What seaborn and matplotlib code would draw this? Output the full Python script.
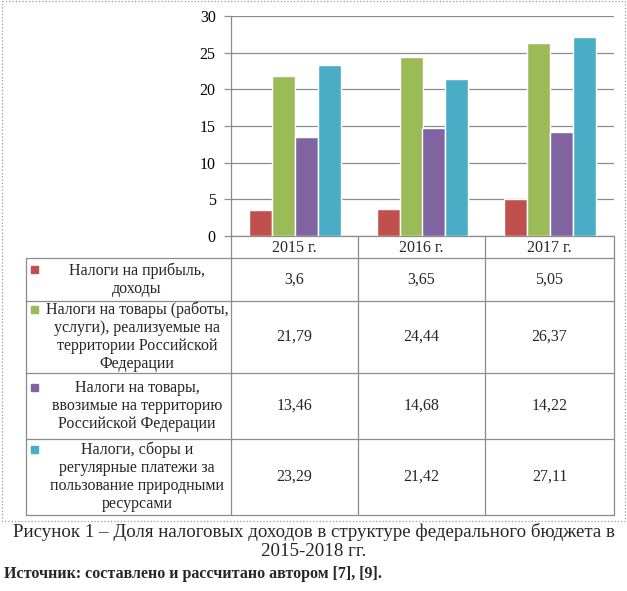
import numpy as np
import pandas as pd
import matplotlib.pyplot as plt
import seaborn as sns
from matplotlib.patches import Rectangle

# Data
years = ["2015 г.", "2016 г.", "2017 г."]
series_names = [
    "Налоги на прибыль, доходы",
    "Налоги на товары (работы, услуги), реализуемые на территории Российской Федерации",
    "Налоги на товары, ввозимые на территорию Российской Федерации",
    "Налоги, сборы и регулярные платежи за пользование природными ресурсами",
]
table_labels = [
    ["Налоги на прибыль,", "доходы"],
    ["Налоги на товары (работы,", "услуги), реализуемые на", "территории Российской", "Федерации"],
    ["Налоги на товары,", "ввозимые на территорию", "Российской Федерации"],
    ["Налоги, сборы и", "регулярные платежи за", "пользование природными", "ресурсами"],
]
profit = [3.6, 3.65, 5.05]
goods_domestic = [21.79, 24.44, 26.37]
goods_import = [13.46, 14.68, 14.22]
resources = [23.29, 21.42, 27.11]
value_labels = [
    ["3,6", "3,65", "5,05"],
    ["21,79", "24,44", "26,37"],
    ["13,46", "14,68", "14,22"],
    ["23,29", "21,42", "27,11"],
]
colors = ["#C0504D", "#9BBB59", "#8064A2", "#4BACC6"]

df = pd.DataFrame({
    "year": years * 4,
    "series": np.repeat(series_names, 3),
    "value": profit + goods_domestic + goods_import + resources,
})

sns.set_theme(style="white")
plt.rcParams['font.family'] = ['Liberation Serif', 'DejaVu Serif']

W, H = 627, 591
fig = plt.figure(figsize=(W / 100, H / 100), dpi=100)
fig.patch.set_facecolor("white")

# overlay in pixel coordinates for the data table and captions
ov = fig.add_axes([0, 0, 1, 1], zorder=0)
ov.set_xlim(0, W)
ov.set_ylim(H, 0)
ov.axis("off")

# chart area
x0, x1, ytop, ybot = 231, 614, 16, 236
ax = fig.add_axes([x0 / W, (H - ybot) / H, (x1 - x0) / W, (ybot - ytop) / H], zorder=1)
ax.patch.set_alpha(0)
sns.barplot(data=df, x="year", y="value", hue="series", palette=colors,
            width=0.72, saturation=1, legend=False, ax=ax, zorder=3)
ax.set_ylim(0, 30)
ax.set_xlim(-0.5, 2.5)
ax.set_yticks(range(0, 31, 5))
ax.set_xticks([])
ax.set_xlabel("")
ax.set_ylabel("")
ax.grid(axis="y", color="#8c8c8c", linewidth=0.9)
ax.set_axisbelow(True)
for s in ["top", "right"]:
    ax.spines[s].set_visible(False)
for s in ["left", "bottom"]:
    ax.spines[s].set_color("#8c8c8c")
    ax.spines[s].set_linewidth(0.9)
ax.tick_params(axis="y", left=True, length=5, width=0.9, color="#8c8c8c",
               labelsize=11.5, pad=6, labelcolor="black")

# data table
fs = 11.5
lc = "#8c8c8c"
col_x = [26, 231, 358, 485, 614]
row_y = [236, 258, 301, 373, 439, 515]
for y in row_y[1:]:
    ov.plot([26, 614], [y, y], color=lc, lw=0.9)
ov.plot([26, 26], [258, 515], color=lc, lw=0.9)
for x in col_x[1:]:
    ov.plot([x, x], [236, 515], color=lc, lw=0.9)

for j, yr in enumerate(years):
    ov.text((col_x[j + 1] + col_x[j + 2]) / 2, 247.5, yr, ha="center", va="center", fontsize=fs)

line_h = 18.3
for i, lines in enumerate(table_labels):
    yc = (row_y[i + 1] + row_y[i + 2]) / 2
    first = yc - (len(lines) - 1) / 2 * line_h
    for k, ln in enumerate(lines):
        ov.text(137, first + k * line_h, ln, ha="center", va="center", fontsize=fs)
    ov.add_patch(Rectangle((31, first - 4), 7, 7, color=colors[i]))
    for j in range(3):
        ov.text((col_x[j + 1] + col_x[j + 2]) / 2, yc, value_labels[i][j],
                ha="center", va="center", fontsize=fs)

# dotted frame around chart
ov.add_patch(Rectangle((2, 1), 623, 520, fill=False, edgecolor="#9a9a9a", lw=0.9, linestyle=":"))

# captions
ov.text(314, 532, "Рисунок 1 – Доля налоговых доходов в структуре федерального бюджета в",
        ha="center", va="center", fontsize=13.6)
ov.text(314, 551, "2015-2018 гг.", ha="center", va="center", fontsize=13.6)
ov.text(4, 574, "Источник: составлено и рассчитано автором [7], [9].",
        ha="left", va="center", fontsize=11.5, fontweight="bold")

fig.savefig("out.png", dpi=100)
